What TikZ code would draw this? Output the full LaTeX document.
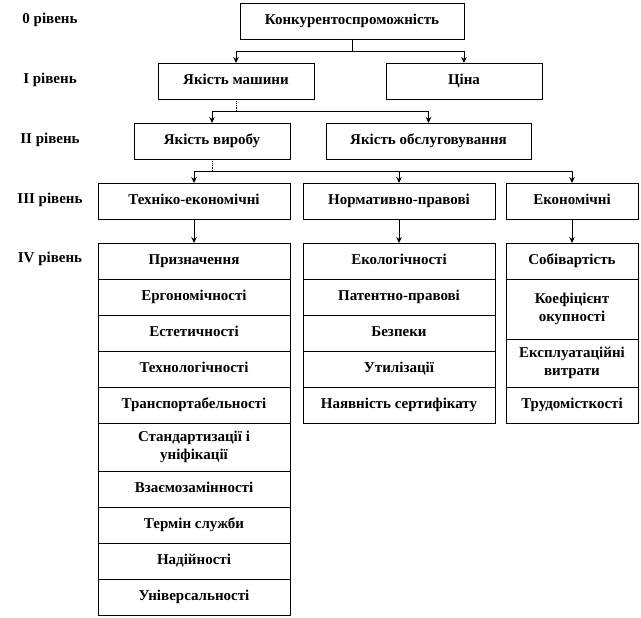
\documentclass[tikz,border=0pt]{standalone}
\usepackage{fontspec}
\setmainfont{Liberation Serif}
\usetikzlibrary{arrows.meta}
\newcommand\mystrut{\rule[-3pt]{0pt}{13pt}}
\newcommand\mybox[6]{%
  \node[boxst, minimum width={(#4-#2)*1pt}, minimum height={(#5-#3)*1pt}]
    (#1) at ({(#2+#4)/2*1pt},{-(#3+#5)/2*1pt}) {\mystrut#6\mystrut};}
\tikzset{
  boxst/.style={draw, line width=0.9pt, outer sep=0pt, inner sep=1pt, align=center,
    font=\fontsize{15}{18}\selectfont\bfseries},
  lvl/.style={font=\fontsize{15}{18}\selectfont\bfseries, inner sep=0pt,
    text height=10pt, text depth=3pt},
  conn/.style={line width=0.9pt},
  arr/.style={line width=0.9pt, -{Stealth[length=6pt,width=5.5pt]}},
  dotl/.style={line width=0.9pt, densely dotted}
}
\begin{document}
\begin{tikzpicture}[x=1pt,y=1pt]
\useasboundingbox (0,0) rectangle (641,-618);
% level labels
\node[lvl] (l0) at (50,-20) {0 рівень};
\node[lvl] (l1) at (50,-80) {І рівень};
\node[lvl] (l2) at (50,-140) {ІІ рівень};
\node[lvl] (l3) at (50,-200) {ІІІ рівень};
\node[lvl] (l4) at (50,-259) {IV рівень};
% upper boxes
\mybox{top}{240}{3}{464}{39}{Конкурентоспроможність}
\mybox{mach}{158}{63}{314}{99}{Якість машини}
\mybox{price}{386}{63}{542}{99}{Ціна}
\mybox{prod}{134}{123}{290}{159}{Якість виробу}
\mybox{serv}{326}{123}{531}{159}{Якість обслуговування}
\mybox{tech}{98}{183}{290}{219}{Техніко-економічні}
\mybox{norm}{303}{183}{495}{219}{Нормативно-правові}
\mybox{econ}{506}{183}{638}{219}{Економічні}
% column 1
\mybox{a1}{98}{243}{290}{279}{Призначення}
\mybox{a2}{98}{279}{290}{315}{Ергономічності}
\mybox{a3}{98}{315}{290}{351}{Естетичності}
\mybox{a4}{98}{351}{290}{387}{Технологічності}
\mybox{a5}{98}{387}{290}{423}{Транспортабельності}
\mybox{a6}{98}{423}{290}{471}{Стандартизації і\\уніфікації}
\mybox{a7}{98}{471}{290}{507}{Взаємозамінності}
\mybox{a8}{98}{507}{290}{543}{Термін служби}
\mybox{a9}{98}{543}{290}{579}{Надійності}
\mybox{a10}{98}{579}{290}{615}{Універсальності}
% column 2
\mybox{b1}{303}{243}{495}{279}{Екологічності}
\mybox{b2}{303}{279}{495}{315}{Патентно-правові}
\mybox{b3}{303}{315}{495}{351}{Безпеки}
\mybox{b4}{303}{351}{495}{387}{Утилізації}
\mybox{b5}{303}{387}{495}{423}{Наявність сертифікату}
% column 3
\mybox{c1}{506}{243}{638}{279}{Собівартість}
\mybox{c2}{506}{279}{638}{339}{Коефіцієнт\\окупності}
\mybox{c3}{506}{339}{638}{387}{Експлуатаційні\\витрати}
\mybox{c4}{506}{387}{638}{423}{Трудомісткості}
% junctions
\coordinate (j0) at (352,-51);
\coordinate (j1) at (236,-111);
\coordinate (j2) at (212,-171);
% connectors
\draw[conn] (top.south) -- (j0);
\draw[arr] (j0) -| (mach.north);
\draw[arr] (j0) -| (price.north);
\draw[dotl] (mach.south) -- (j1);
\draw[arr] (j1) -| (prod.north);
\draw[arr] (j1) -| (serv.north);
\draw[dotl] (prod.south) -- (j2);
\draw[arr] (j2) -| (tech.north);
\draw[arr] (j2) -| (norm.north);
\draw[arr] (j2) -| (econ.north);
\draw[arr] (tech.south) -- (a1.north);
\draw[arr] (norm.south) -- (b1.north);
\draw[arr] (econ.south) -- (c1.north);
\end{tikzpicture}
\end{document}
